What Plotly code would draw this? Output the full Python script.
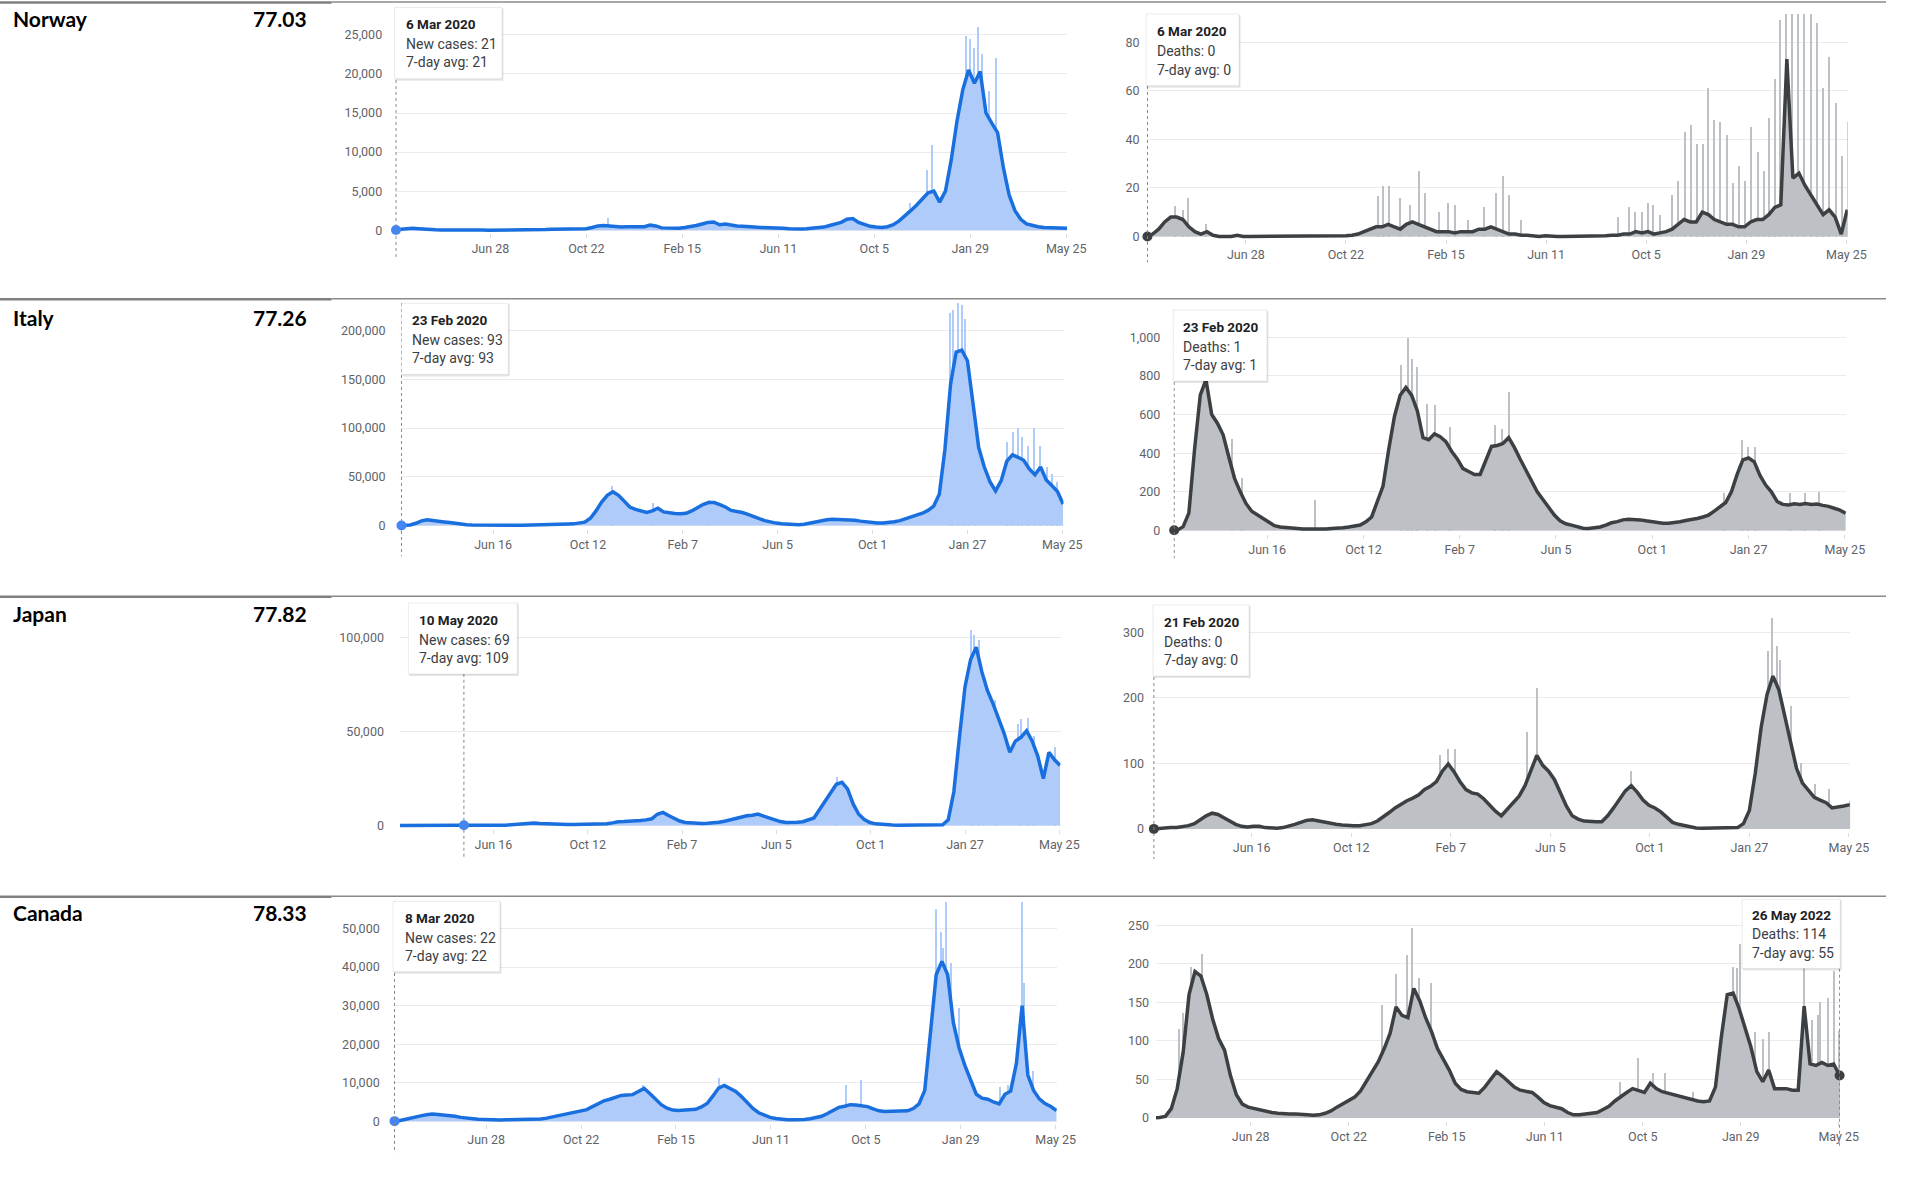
import pandas as pd
import plotly.graph_objects as go

W, H = 1905, 1192
DAY_MS = 86400000

# weekly sample dates shared by every panel (Thursdays)
weeks = pd.date_range("2020-02-20", periods=119, freq="7D")

countries = ["Norway", "Italy", "Japan", "Canada"]
country_values = ["77.03", "77.26", "77.82", "78.33"]

ticks_a = ["2020-06-28", "2020-10-22", "2021-02-15", "2021-06-11", "2021-10-05", "2022-01-29", "2022-05-25"]
ticktext_a = ["Jun 28", "Oct 22", "Feb 15", "Jun 11", "Oct 5", "Jan 29", "May 25"]
ticks_b = ["2020-06-16", "2020-10-12", "2021-02-07", "2021-06-05", "2021-10-01", "2022-01-27", "2022-05-25"]
ticktext_b = ["Jun 16", "Oct 12", "Feb 7", "Jun 5", "Oct 1", "Jan 27", "May 25"]

# ---- Norway ----
norway_cases = [
    0, 0, 20, 120, 220, 250, 200, 120, 80, 60,
    40, 20, 15, 12, 10, 10, 12, 15, 12, 10,
    12, 15, 20, 40, 70, 60, 50, 60, 80, 110,
    130, 100, 100, 100, 130, 200, 350, 550, 600, 500,
    450, 400, 450, 480, 400, 450, 650, 550, 300, 250,
    200, 250, 350, 450, 600, 800, 1000, 1050, 700, 800,
    650, 550, 500, 500, 400, 350, 350, 350, 350, 250,
    200, 150, 150, 200, 250, 300, 400, 600, 800, 1000,
    1400, 1500, 1000, 700, 500, 400, 350, 450, 700, 1200,
    1800, 2500, 3200, 4000, 4800, 5000, 3600, 5000, 9000, 14000,
    18000, 20500, 18800, 20300, 15000, 13700, 12500, 8000, 4500, 2500,
    1400, 800, 600, 450, 350, 300, 280, 250, 250]
norway_case_spike_dates = ["2020-11-17", "2021-11-17", "2021-12-08", "2021-12-14", "2022-01-17", "2022-01-24",
                           "2022-01-29", "2022-02-03", "2022-02-08", "2022-02-12", "2022-02-21", "2022-03-01"]
norway_case_spikes = [1600, 3500, 7700, 10900, 12400, 24900, 24500, 23300, 26000, 22500, 17800, 22000]

norway_deaths = [
    0, 0, 0, 1, 3, 6, 8, 8, 7, 4,
    2, 1, 2, 0.5, 0, 0, 0, 0.5, 0, 0,
    0, 0, 0.3, 0, 0, 0, 0, 0, 0, 0,
    0, 0.3, 0, 0, 0, 0.3, 0.5, 1, 2, 3,
    4, 4, 5, 4, 3, 5, 6, 5, 4, 3,
    2, 2, 2, 1.5, 2, 2, 2, 3, 3, 4,
    3, 2, 1, 1, 0.5, 0.5, 0.3, 0, 0.3, 0,
    0, 0, 0, 0, 0, 0.3, 0, 0, 0.3, 0.5,
    0.5, 1, 1, 2, 1.5, 2, 1, 1.5, 2, 3,
    5, 7, 6, 6, 10, 9, 7, 6, 5, 5,
    4, 4, 6, 7, 7, 9, 12, 13, 73, 24,
    26, 21, 17, 13, 9, 11, 8, 1, 11]
norway_death_spike_dates = [
    "2020-04-07", "2020-04-16", "2020-04-21", "2020-05-12", "2020-11-28", "2020-12-03", "2020-12-10",
    "2020-12-23", "2021-01-04", "2021-01-14", "2021-01-21", "2021-02-06", "2021-02-17", "2021-02-25",
    "2021-03-12", "2021-03-31", "2021-04-14", "2021-04-22", "2021-04-28", "2021-05-13", "2021-09-02",
    "2021-09-15", "2021-09-22", "2021-09-30", "2021-10-07", "2021-10-13", "2021-10-20", "2021-11-04",
    "2021-11-11", "2021-11-18", "2021-11-25", "2021-12-02", "2021-12-09", "2021-12-15", "2021-12-22",
    "2021-12-29", "2022-01-06", "2022-01-13", "2022-01-20", "2022-01-27", "2022-02-03", "2022-02-11",
    "2022-02-18", "2022-02-24", "2022-03-03", "2022-03-09", "2022-03-16", "2022-03-23", "2022-03-30",
    "2022-04-06", "2022-04-13", "2022-04-20", "2022-04-27", "2022-05-04", "2022-05-12", "2022-05-20",
    "2022-05-26"]
norway_death_spikes = [
    12.6, 11, 16, 5, 16.7, 20.8, 21, 16, 13, 27, 18, 10, 14, 13, 7, 12, 18, 25, 17, 7,
    8, 12, 10, 10, 14, 13, 9, 17, 23, 43, 46, 38, 38, 61, 48, 47, 42, 22, 29, 23,
    45, 35, 27, 49, 65, 89, 95, 95, 95, 95, 95, 88, 61, 74, 55, 33, 47]

# ---- Italy ----
italy_cases = [
    0, 150, 600, 2300, 4800, 5800, 4800, 4200, 3700, 3000,
    2000, 1400, 900, 650, 500, 350, 300, 280, 220, 200,
    200, 220, 250, 300, 400, 550, 900, 1200, 1400, 1500,
    1550, 1700, 2200, 3500, 7500, 15000, 24000, 31000, 34700, 31000,
    25000, 19000, 16500, 15000, 13500, 15000, 17700, 14000, 12800, 12400,
    12000, 12500, 15000, 18500, 21500, 23500, 23500, 21500, 19000, 15500,
    14500, 13300, 11500, 9000, 7000, 5000, 3500, 2500, 1800, 1200,
    900, 900, 1300, 2500, 4000, 5000, 6000, 6500, 6400, 6200,
    6000, 5500, 4500, 3800, 3000, 2700, 2500, 2900, 3900, 5000,
    6800, 8800, 11000, 12600, 15500, 20000, 32000, 78000, 145000, 178000,
    180000, 169000, 125000, 80000, 60000, 45000, 35500, 46000, 66000, 72500,
    70000, 67000, 58000, 52000, 60000, 46700, 41000, 35000, 22000]
italy_case_spike_dates = ["2020-11-10", "2021-01-01", "2021-03-11", "2022-01-05", "2022-01-09", "2022-01-15",
                          "2022-01-20", "2022-01-24", "2022-01-28", "2022-02-06", "2022-03-17", "2022-03-24",
                          "2022-03-30", "2022-04-05", "2022-04-12", "2022-04-20", "2022-04-27", "2022-05-06",
                          "2022-05-12", "2022-05-18"]
italy_case_spikes = [40500, 22800, 26000, 218000, 221000, 228000, 226000, 212000, 155000, 101000,
                     86000, 96000, 100000, 91000, 82000, 100000, 82000, 60000, 53000, 45000]

italy_deaths = [
    0, 2, 20, 90, 420, 700, 780, 600, 555, 495,
    380, 270, 200, 140, 100, 80, 60, 45, 25, 18,
    14, 12, 10, 8, 7, 6, 7, 8, 10, 11,
    14, 18, 22, 28, 45, 70, 150, 230, 420, 590,
    700, 740, 700, 620, 480, 470, 500, 485, 460, 410,
    370, 320, 305, 290, 290, 360, 435, 440, 450, 480,
    430, 370, 310, 260, 200, 160, 120, 80, 50, 35,
    28, 18, 12, 10, 12, 18, 28, 40, 46, 55,
    58, 57, 55, 50, 46, 40, 38, 38, 40, 45,
    52, 56, 62, 70, 80, 100, 125, 145, 200, 290,
    365, 375, 355, 285, 235, 200, 150, 135, 132, 138,
    135, 140, 135, 137, 130, 125, 115, 105, 89]
italy_death_spike_dates = ["2020-05-04", "2020-05-16", "2020-08-14", "2020-11-27", "2020-12-06", "2020-12-11",
                           "2020-12-17", "2020-12-29", "2021-01-08", "2021-01-27", "2021-03-23", "2021-03-31",
                           "2021-04-09", "2021-12-28", "2022-01-19", "2022-01-27", "2022-02-04", "2022-03-19",
                           "2022-04-07", "2022-04-24"]
italy_death_spikes = [476, 270, 158, 854, 995, 888, 845, 656, 648, 536,
                      545, 527, 716, 192, 467, 433, 430, 192, 192, 201]

# ---- Japan ----
japan_cases = [
    0, 20, 40, 50, 50, 120, 300, 550, 550, 350,
    200, 110, 60, 30, 40, 40, 50, 60, 110, 200,
    400, 700, 900, 1200, 1350, 1100, 900, 700, 550, 520,
    500, 490, 520, 540, 580, 620, 700, 900, 1400, 2000,
    2100, 2200, 2500, 2700, 3000, 3600, 6000, 7000, 5300, 3800,
    2400, 1600, 1300, 1000, 1050, 1200, 1400, 1800, 2300, 3000,
    3900, 4600, 5200, 5500, 6100, 5000, 3900, 2700, 2100, 1600,
    1500, 1700, 2000, 2800, 4000, 8500, 13000, 17500, 22000, 23000,
    19500, 11500, 6000, 3200, 1600, 900, 600, 350, 250, 200,
    180, 120, 100, 110, 120, 150, 200, 400, 3000, 18000,
    47000, 74000, 88500, 95000, 82000, 72000, 65000, 57000, 49000, 39000,
    45000, 47000, 50500, 45000, 37000, 25000, 39000, 35000, 32000]
japan_case_spike_dates = ["2021-08-20", "2022-02-04", "2022-02-07", "2022-02-14", "2022-02-18", "2022-03-06",
                          "2022-04-03", "2022-04-07", "2022-04-16", "2022-04-23", "2022-05-19"]
japan_case_spikes = [25700, 104000, 101800, 99000, 79600, 67000, 54000, 56600, 57500, 47800, 41600]

japan_deaths = [
    0, 1, 1, 2, 2, 3, 5, 8, 14, 20,
    24, 22, 17, 12, 7, 4, 3, 4, 4, 2,
    1, 1, 2, 4, 7, 10, 13, 14, 12, 10,
    9, 7, 6, 5, 5, 5, 6, 8, 12, 18,
    25, 32, 38, 43, 47, 52, 60, 65, 72, 88,
    99, 87, 72, 60, 55, 53, 46, 36, 27, 20,
    30, 40, 50, 66, 90, 112, 97, 88, 75, 55,
    35, 20, 15, 12, 11, 11, 11, 20, 32, 45,
    58, 66, 56, 44, 36, 32, 26, 18, 10, 7,
    5, 4, 1.5, 1, 1, 1, 1, 1, 1, 2,
    8, 28, 85, 155, 205, 233, 212, 170, 128, 92,
    70, 58, 48, 44, 40, 32, 33, 35, 37]
japan_death_spike_dates = ["2021-01-25", "2021-02-04", "2021-02-12", "2021-05-09", "2021-05-20", "2021-09-09",
                           "2022-02-18", "2022-02-23", "2022-03-01", "2022-03-04", "2022-03-17", "2022-03-29",
                           "2022-04-15", "2022-05-02", "2022-05-26"]
japan_death_spikes = [112, 122, 122, 148, 215, 89, 271, 322, 279, 258, 188, 101, 68, 61, 43]

# ---- Canada ----
canada_cases = [
    0, 0, 0, 80, 400, 800, 1100, 1400, 1700, 1850,
    1750, 1650, 1550, 1300, 1000, 800, 650, 500, 450, 350,
    330, 340, 380, 420, 400, 380, 420, 480, 600, 800,
    1100, 1500, 1900, 2200, 2400, 2600, 3000, 3800, 4600, 5300,
    5700, 6300, 6700, 6800, 6900, 7700, 8500, 7200, 5700, 4300,
    3400, 2900, 2800, 2900, 2900, 3100, 3700, 4600, 6500, 8600,
    9300, 8500, 7700, 6400, 4800, 3300, 2200, 1600, 1000, 700,
    500, 400, 350, 320, 450, 650, 900, 1300, 2000, 2900,
    3600, 3900, 4300, 4200, 4000, 3800, 3200, 2700, 2500, 2500,
    2600, 2600, 2700, 3300, 4500, 8000, 22000, 38000, 41500, 38000,
    25500, 19000, 14500, 11000, 7000, 6000, 5700, 5000, 4500, 7000,
    7800, 15000, 30000, 12000, 8000, 5800, 4600, 3800, 2800]
canada_case_spike_dates = ["2021-01-05", "2021-04-08", "2021-09-11", "2021-09-29", "2021-12-30", "2022-01-05",
                           "2022-01-07", "2022-01-11", "2022-01-17", "2022-01-26", "2022-03-18", "2022-03-27",
                           "2022-04-14", "2022-04-16", "2022-04-27"]
canada_case_spikes = [9500, 11200, 9500, 10800, 55000, 49000, 45000, 56900, 41000, 29300,
                      9000, 9500, 57000, 36000, 13000]

canada_deaths = [
    0, 0, 0, 0.5, 2, 12, 38, 85, 160, 190,
    184, 160, 128, 103, 88, 55, 30, 18, 14, 12,
    10, 9, 7, 6, 5, 5, 5, 5, 4, 3.5,
    4, 6, 9, 14, 18, 22, 27, 35, 48, 60,
    73, 90, 110, 144, 133, 130, 168, 152, 130, 112,
    90, 76, 62, 45, 37, 34, 33, 32, 40, 50,
    60, 54, 47, 40, 36, 35, 33, 27, 20, 16,
    14, 12, 7, 4, 4, 5, 5, 7, 11, 15,
    22, 28, 33, 38, 35, 33, 45, 38, 34, 32,
    29, 27, 25, 23, 22, 21, 22, 40, 105, 160,
    162, 142, 115, 92, 60, 47, 62, 38, 38, 38,
    36, 36, 145, 70, 68, 72, 68, 70, 55]
canada_death_spike_dates = ["2020-04-04", "2020-04-09", "2020-04-18", "2020-05-01", "2020-12-01", "2020-12-17",
                            "2020-12-30", "2021-01-05", "2021-01-13", "2021-01-28", "2021-09-08", "2021-09-29",
                            "2021-10-17", "2021-11-01", "2021-12-04", "2022-01-20", "2022-01-25", "2022-01-28",
                            "2022-02-15", "2022-02-24", "2022-03-04", "2022-04-14", "2022-04-24", "2022-04-30",
                            "2022-05-03", "2022-05-12", "2022-05-20", "2022-05-26"]
canada_death_spikes = [116, 136, 196, 213, 147, 187, 211, 247, 181, 175, 47, 78, 58, 58, 34,
                       196, 194, 226, 112, 103, 112, 194, 127, 134, 151, 155, 190, 113]

# hovered point of each panel and its tooltip
hover_points = [("2020-03-06", 21), ("2020-03-06", 0), ("2020-02-23", 93), ("2020-02-23", 1),
                ("2020-05-10", 109), ("2020-02-21", 0), ("2020-03-08", 22), ("2022-05-26", 55)]
tooltips = [
    ["6 Mar 2020", "New cases: 21", "7-day avg: 21"],
    ["6 Mar 2020", "Deaths: 0", "7-day avg: 0"],
    ["23 Feb 2020", "New cases: 93", "7-day avg: 93"],
    ["23 Feb 2020", "Deaths: 1", "7-day avg: 1"],
    ["10 May 2020", "New cases: 69", "7-day avg: 109"],
    ["21 Feb 2020", "Deaths: 0", "7-day avg: 0"],
    ["8 Mar 2020", "New cases: 22", "7-day avg: 22"],
    ["26 May 2022", "Deaths: 114", "7-day avg: 55"],
]

series = [
    (norway_cases, norway_case_spike_dates, norway_case_spikes),
    (norway_deaths, norway_death_spike_dates, norway_death_spikes),
    (italy_cases, italy_case_spike_dates, italy_case_spikes),
    (italy_deaths, italy_death_spike_dates, italy_death_spikes),
    (japan_cases, japan_case_spike_dates, japan_case_spikes),
    (japan_deaths, japan_death_spike_dates, japan_death_spikes),
    (canada_cases, canada_case_spike_dates, canada_case_spikes),
    (canada_deaths, canada_death_spike_dates, canada_death_spikes),
]

# layout of each panel in page pixels
panels = [
    dict(start="2020-03-06", px0=400, px1=1077, yv=25000, pyv=35, py0=231, pyt=10,
         yt=[0, 5000, 10000, 15000, 20000, 25000], xt="a", gap=15,
         box=(398.5, 7.5, 507, 79), tx=408, ty=(24, 44, 62.5), hl=(8, 258)),
    dict(start="2020-03-06", px0=1159, px1=1865, yv=80, pyv=42.3, py0=237.3, pyt=14,
         yt=[0, 20, 40, 60, 80], xt="a", gap=9,
         box=(1157.5, 14, 1251.5, 86), tx=1166.5, ty=(31.5, 51.5, 70), hl=(14, 263)),
    dict(start="2020-02-23", px0=405.5, px1=1073, yv=200000, pyv=331.7, py0=527.3, pyt=304,
         yt=[0, 50000, 100000, 150000, 200000], xt="b", gap=17,
         box=(405.5, 304.3, 513.5, 375.7), tx=414, ty=(321, 341, 359.3), hl=(304, 558)),
    dict(start="2020-02-23", px0=1186, px1=1863.4, yv=1000, pyv=338.3, py0=532.3, pyt=310,
         yt=[0, 200, 400, 600, 800, 1000], xt="b", gap=15,
         box=(1185, 311, 1279.7, 382.3), tx=1193.4, ty=(327.7, 347.7, 366), hl=(311, 560)),
    dict(start="2020-02-21", px0=404.8, px1=1070, yv=100000, pyv=640, py0=828.3, pyt=605,
         yt=[0, 50000, 100000], xt="b", gap=18,
         box=(412.5, 605, 522.6, 676.3), tx=421.6, ty=(621.7, 641.7, 660.3), hl=(676, 860)),
    dict(start="2020-02-21", px0=1165.5, px1=1867.5, yv=300, pyv=634.3, py0=831.7, pyt=605,
         yt=[0, 100, 200, 300], xt="b", gap=11,
         box=(1164.7, 607, 1261.7, 678.3), tx=1173.4, ty=(623.7, 644, 662.7), hl=(607, 862)),
    dict(start="2020-03-08", px0=398.5, px1=1066.3, yv=50000, pyv=931.7, py0=1125, pyt=905,
         yt=[0, 10000, 20000, 30000, 40000, 50000], xt="a", gap=16,
         box=(397, 904.3, 505, 975), tx=407, ty=(921, 940.7, 959), hl=(904, 1157)),
    dict(start="2020-03-09", px0=1168.6, px1=1857.3, yv=250, pyv=928.3, py0=1121.7, pyt=902,
         yt=[0, 50, 100, 150, 200, 250], xt="a", gap=9,
         box=(1759.7, 902.3, 1858.8, 971.7), tx=1767.4, ty=(918.3, 937.3, 956), hl=(972, 1152)),
]

CASE_FILL, CASE_LINE, CASE_DOT = "#aecbfa", "#1a6fdf", "#4285f4"
DEATH_FILL, DEATH_LINE, DEATH_DOT = "#bdc1c6", "#3c4043", "#3c4043"
TICK_FONT = dict(family="Roboto, Arial, sans-serif", size=12.5, color="#5f6368")

fig = go.Figure()
end_day = pd.Timestamp("2022-05-25")

for k, (p, (vals, sdates, svals)) in enumerate(zip(panels, series)):
    n = k + 1
    xa, ya = ("x", "y") if n == 1 else (f"x{n}", f"y{n}")
    cases = k % 2 == 0
    fill = CASE_FILL if cases else DEATH_FILL
    line = CASE_LINE if cases else DEATH_LINE
    dot = CASE_DOT if cases else DEATH_DOT

    fig.add_trace(go.Bar(x=sdates, y=svals, width=1.3 * DAY_MS, marker=dict(color=fill, line=dict(width=0)),
                         xaxis=xa, yaxis=ya, hoverinfo="skip"))
    fig.add_trace(go.Scatter(x=weeks, y=vals, mode="lines", fill="tozeroy", fillcolor=fill,
                             line=dict(width=0, color=fill), xaxis=xa, yaxis=ya, hoverinfo="skip"))
    fig.add_trace(go.Scatter(x=weeks, y=vals, mode="lines", line=dict(width=3.5, color=line),
                             xaxis=xa, yaxis=ya))
    hd, hv = hover_points[k]
    fig.add_trace(go.Scatter(x=[hd], y=[hv], mode="markers", marker=dict(size=10, color=dot),
                             cliponaxis=False, xaxis=xa, yaxis=ya))

    # axes placed by page pixels
    s = pd.Timestamp(p["start"])
    ppd = (p["px1"] - p["px0"]) / (end_day - s).days
    xr = [s - pd.Timedelta(days=1), pd.Timestamp("2022-05-26 12:00")]
    xd = [(p["px0"] - ppd) / W, (p["px1"] + 1.5 * ppd) / W]
    ppu = (p["py0"] - p["pyv"]) / p["yv"]
    yr = [-3 / ppu, (p["py0"] - p["pyt"]) / ppu]
    yd = [1 - (p["py0"] + 3) / H, 1 - p["pyt"] / H]
    tv, tt = (ticks_a, ticktext_a) if p["xt"] == "a" else (ticks_b, ticktext_b)

    fig.layout["xaxis" if n == 1 else f"xaxis{n}"] = dict(
        domain=xd, range=xr, anchor=ya, type="date", showgrid=False, zeroline=False, showline=False,
        tickvals=tv, ticktext=tt, ticks="outside", ticklen=4, tickcolor="#dadce0", tickfont=TICK_FONT)
    fig.layout["yaxis" if n == 1 else f"yaxis{n}"] = dict(
        domain=yd, range=yr, anchor=xa, showgrid=True, gridcolor="#ebebeb", gridwidth=1, zeroline=False,
        showline=False, tickvals=p["yt"], tickformat=",d", tickfont=TICK_FONT,
        ticklabelstandoff=max(p["gap"] - 3, 0))

    # hover guide line
    fig.add_shape(type="line", xref=xa, yref="paper", x0=hd, x1=hd,
                  y0=1 - p["hl"][0] / H, y1=1 - p["hl"][1] / H,
                  line=dict(color="#80868b", width=1, dash="dot"))
    # tooltip box with soft shadow
    bx0, by0, bx1, by1 = p["box"]
    fig.add_shape(type="rect", xref="paper", yref="paper", x0=(bx0 + 1) / W, x1=(bx1 + 1.5) / W,
                  y0=1 - (by1 + 2) / H, y1=1 - (by0 + 1) / H,
                  fillcolor="rgba(0,0,0,0.10)", line=dict(width=0))
    fig.add_shape(type="rect", xref="paper", yref="paper", x0=bx0 / W, x1=bx1 / W,
                  y0=1 - by1 / H, y1=1 - by0 / H, fillcolor="white",
                  line=dict(color="rgba(0,0,0,0.08)", width=1))
    for j, txt in enumerate(tooltips[k]):
        fig.add_annotation(x=p["tx"] / W, y=1 - p["ty"][j] / H, xref="paper", yref="paper",
                           text=f"<b>{txt}</b>" if j == 0 else txt, showarrow=False,
                           xanchor="left", yanchor="middle",
                           font=dict(family="Roboto, Arial, sans-serif", size=13.5 if j == 0 else 14,
                                     color="#202124" if j == 0 else "#3c4043"))

# row labels and separators
row_label_y = [18.3, 318.3, 615.7, 915.7]
row_sep_y = [2.5, 300.3, 598.7, 899.7]
for name, val, ly, sy in zip(countries, country_values, row_label_y, row_sep_y):
    fig.add_annotation(x=11 / W, y=1 - ly / H, xref="paper", yref="paper", text=f"<b>{name}</b>",
                       showarrow=False, xanchor="left", yanchor="middle",
                       font=dict(family="Lato, Carlito, sans-serif", size=21, color="black"))
    fig.add_annotation(x=312 / W, y=1 - ly / H, xref="paper", yref="paper", text=f"<b>{val}</b>",
                       showarrow=False, xanchor="right", yanchor="middle",
                       font=dict(family="Lato, Carlito, sans-serif", size=21, color="black"))
    fig.add_shape(type="line", xref="paper", yref="paper", x0=0, x1=335 / W, y0=1 - sy / H, y1=1 - sy / H,
                  line=dict(color="#7f7f7f", width=2.5))
    fig.add_shape(type="line", xref="paper", yref="paper", x0=335 / W, x1=1, y0=1 - (sy - 0.5) / H,
                  y1=1 - (sy - 0.5) / H, line=dict(color="#8a8a8a", width=1.5))

fig.update_layout(width=W, height=H, margin=dict(l=0, r=0, t=0, b=0), showlegend=False,
                  paper_bgcolor="white", plot_bgcolor="white", bargap=0)

fig.write_html("out.html", config={"displayModeBar": False},
               post_script="document.body.style.margin='0';document.body.style.overflow='hidden';")
